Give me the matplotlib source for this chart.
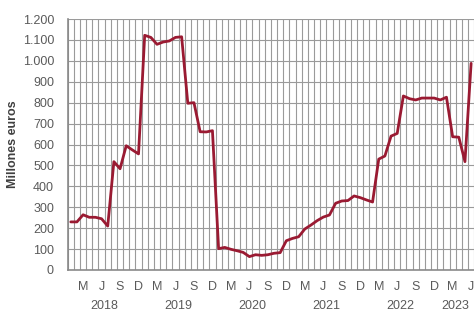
import matplotlib
matplotlib.use("Agg")
import matplotlib.pyplot as plt
from matplotlib.ticker import FuncFormatter

# Monthly values, Jan 2018 - Jun 2023 (millones euros)
years = ["2018", "2019", "2020", "2021", "2022", "2023"]
month_letters = ["M", "J", "S", "D"]
values = [
    230, 230, 264, 252, 252, 245, 210, 518, 484, 594, 574, 555,        # 2018
    1122, 1112, 1079, 1090, 1095, 1112, 1115, 797, 800, 661, 660, 666,  # 2019
    102, 108, 99, 92, 84, 64, 73, 70, 73, 80, 83, 140,                  # 2020
    151, 159, 196, 215, 236, 253, 263, 319, 330, 332, 354, 346,         # 2021
    335, 325, 530, 545, 640, 653, 832, 819, 813, 822, 822, 822,         # 2022
    813, 826, 637, 635, 518, 988,                                       # 2023
]

plt.rcParams['font.family'] = ['Liberation Sans', 'DejaVu Sans']

fig = plt.figure(figsize=(4.74, 3.09), dpi=100)
ax = fig.add_axes([67.7 / 474, 1 - 270 / 309, (474.2 - 67.7) / 474, (270 - 19) / 309])

n = len(values)
x = list(range(n))
ax.plot(x, values, color='#9A1A32', lw=2.0, solid_joinstyle='round', solid_capstyle='round', zorder=3)

ax.set_xlim(-0.5, n - 0.5)
ax.set_ylim(0, 1200)

grid_c = '#9a9a9a'
# vertical grid at month boundaries
for b in range(n + 1):
    ax.axvline(b - 0.5, color=grid_c, lw=0.8, zorder=1)
ax.set_yticks(range(0, 1201, 100))
ax.yaxis.grid(True, color=grid_c, lw=0.8, zorder=1)
ax.set_axisbelow(True)
ax.yaxis.set_major_formatter(FuncFormatter(lambda v, p: f"{int(v):,}".replace(",", ".")))

# month letter ticks every 3 months starting in March
tick_pos = list(range(2, n, 3))
tick_lab = [month_letters[i % 4] for i in range(len(tick_pos))]
ax.set_xticks(tick_pos)
ax.set_xticklabels(tick_lab)

ax.tick_params(axis='both', length=0, labelsize=9, colors='#5a5a5a')
ax.tick_params(axis='y', pad=9.9)
ax.tick_params(axis='x', pad=8)

for s in ['top', 'right']:
    ax.spines[s].set_visible(False)
for s in ['left', 'bottom']:
    ax.spines[s].set_color('#8a8a8a')
    ax.spines[s].set_linewidth(1.2)

# year labels
for k, yr in enumerate(years):
    start = k * 12
    end = min(start + 12, n)
    cx = (start + end - 1) / 2
    ax.text(cx, -0.145, yr, transform=ax.get_xaxis_transform(), ha='center', va='center',
            fontsize=9, color='#5a5a5a')

fig.text(13 / 474, 1 - 144 / 309, "Millones euros", rotation=90, ha='center', va='center',
         fontsize=9, fontweight='bold', color='#404040')

fig.savefig("out.png", dpi=100)
